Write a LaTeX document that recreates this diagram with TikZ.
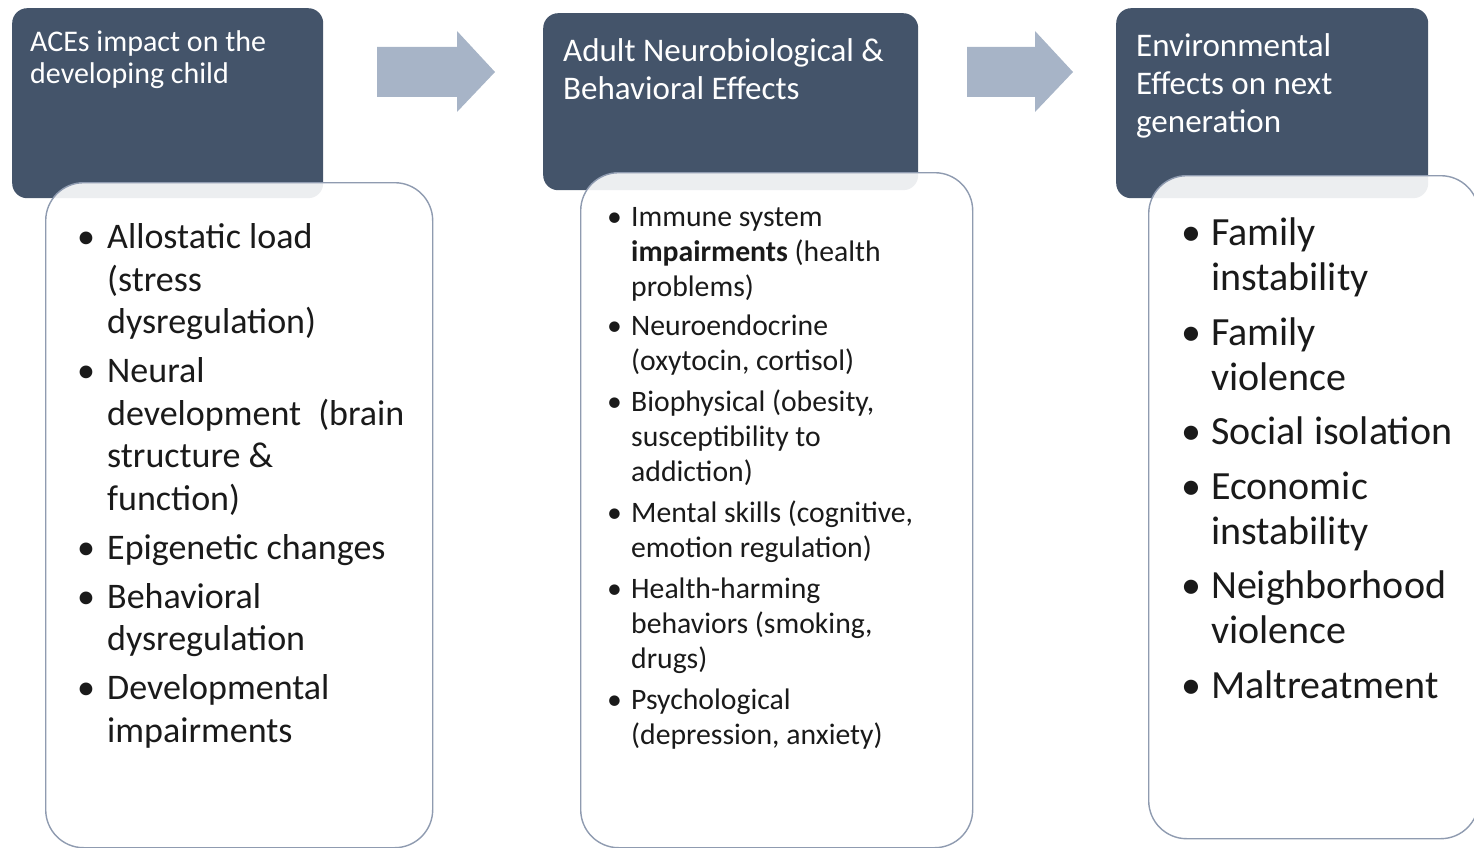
\documentclass[tikz,border=0pt]{standalone}
\usepackage{fontspec}
\setmainfont{Carlito}
\definecolor{headfill}{HTML}{44546A}
\definecolor{bodyline}{HTML}{8F9BB0}
\definecolor{arrowfill}{HTML}{A7B4C7}
\definecolor{bodytext}{HTML}{1A1A1A}
% bullet line and continuation line helpers
\newcommand\bl[2]{\makebox[#1][l]{\textbullet}#2}
\newcommand\cl[2]{\hspace*{#1}#2}
\begin{document}
\begin{tikzpicture}[x=1pt,y=-1pt,
  headbox/.style={fill=headfill, draw=none, rounded corners=15pt, anchor=north west, inner sep=0pt},
  bodybox/.style={fill=white, fill opacity=0.9, draw=bodyline, line width=1.4pt, rounded corners=38pt, anchor=north west, inner sep=0pt},
  % text nodes are placed by the baseline of their last line
  headtext/.style={text=white, anchor=base west, align=left, inner sep=0pt},
  listtext/.style={text=bodytext, anchor=base west, align=left, inner sep=0pt},
  blockarrow/.style={fill=arrowfill, draw=none}]
\useasboundingbox (0,0) rectangle (1474,848);

% column headers
\node[headbox, minimum width=311pt, minimum height=190pt] (h1) at (12,8) {};
\node[headbox, minimum width=375pt, minimum height=177pt] (h2) at (543,13) {};
\node[headbox, minimum width=312pt, minimum height=190pt] (h3) at (1116,8) {};

% list panels, partly covering the headers
\node[bodybox, minimum width=387pt, minimum height=665pt] (b1) at (45,182) {};
\node[bodybox, minimum width=392pt, minimum height=675pt] (b2) at (580,172) {};
\node[bodybox, minimum width=330pt, minimum height=663pt] (b3) at (1148,175) {};

% block arrows between the columns
\fill[blockarrow] (377,47) -- (457,47) -- (457,31) -- (495,72) -- (457,112) -- (457,97) -- (377,97) -- cycle;
\fill[blockarrow] (967,47) -- (1035,47) -- (1035,31) -- (1073,72) -- (1035,112) -- (1035,97) -- (967,97) -- cycle;

% header texts
\node[headtext, font=\fontsize{30}{32}\selectfont] (t1) at (30,84)
  {ACEs impact on the\\developing child};
\node[headtext, font=\fontsize{33}{38}\selectfont] (t2) at (563,100)
  {Adult Neurobiological \&\\Behavioral Effects};
\node[headtext, font=\fontsize{33}{38}\selectfont] (t3) at (1136,132)
  {Environmental\\Effects on next\\generation};

% list texts
\node[listtext, font=\fontsize{36}{42.5}\selectfont] (l1) at (77,742)
  {\bl{30pt}{Allostatic load}\\
   \cl{30pt}{(stress}\\
   \cl{30pt}{dysregulation)}\\[6.5pt]
   \bl{30pt}{Neural}\\
   \cl{30pt}{development\hspace{0.25em} (brain}\\
   \cl{30pt}{structure \&}\\
   \cl{30pt}{function)}\\[6.5pt]
   \bl{30pt}{Epigenetic changes}\\[6.5pt]
   \bl{30pt}{Behavioral}\\
   \cl{30pt}{dysregulation}\\[6.5pt]
   \bl{30pt}{Developmental}\\
   \cl{30pt}{impairments}};

\node[listtext, font=\fontsize{29.7}{35}\selectfont] (l2) at (607,744)
  {\bl{24pt}{Immune system}\\
   \cl{24pt}{\textbf{impairments} (health}\\
   \cl{24pt}{problems)}\\[4pt]
   \bl{24pt}{Neuroendocrine}\\
   \cl{24pt}{(oxytocin, cortisol)}\\[6pt]
   \bl{24pt}{Biophysical (obesity,}\\
   \cl{24pt}{susceptibility to}\\
   \cl{24pt}{addiction)}\\[6pt]
   \bl{24pt}{Mental skills (cognitive,}\\
   \cl{24pt}{emotion regulation)}\\[6pt]
   \bl{24pt}{Health-harming}\\
   \cl{24pt}{behaviors (smoking,}\\
   \cl{24pt}{drugs)}\\[6pt]
   \bl{24pt}{Psychological}\\
   \cl{24pt}{(depression, anxiety)}};

\node[listtext, font=\fontsize{40}{45}\selectfont] (l3) at (1181,698)
  {\bl{30pt}{Family}\\
   \cl{30pt}{instability}\\[9.5pt]
   \bl{30pt}{Family}\\
   \cl{30pt}{violence}\\[9.5pt]
   \bl{30pt}{Social isolation}\\[9.5pt]
   \bl{30pt}{Economic}\\
   \cl{30pt}{instability}\\[9.5pt]
   \bl{30pt}{Neighborhood}\\
   \cl{30pt}{violence}\\[9.5pt]
   \bl{30pt}{Maltreatment}};
\end{tikzpicture}
\end{document}
